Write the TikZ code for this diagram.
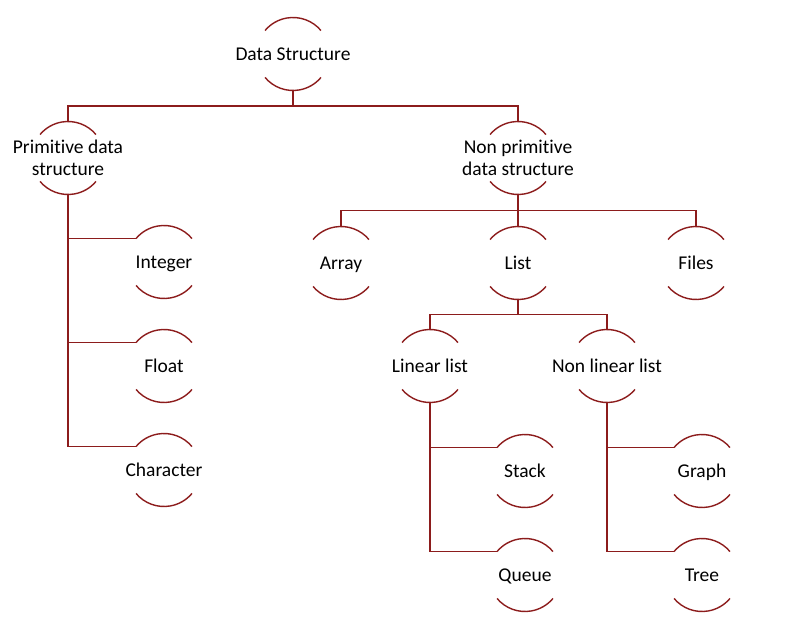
\documentclass[tikz,border=0pt]{standalone}
\usepackage{fontspec}
\setmainfont{Carlito}
\usetikzlibrary{calc}

\definecolor{dsred}{RGB}{140,28,28}
\def\arcrad{36.5pt}

\begin{document}
\begin{tikzpicture}[
    x=1pt, y=-1pt,
    dsnode/.style={shape=rectangle, inner sep=0pt, outer sep=0pt,
        minimum width=73pt, minimum height=73pt, align=center,
        font=\fontsize{19.5}{22.5}\selectfont},
    dsleaf/.style={dsnode, text height=13pt, text depth=0pt},
    link/.style={draw=dsred, line width=1.4pt},
    down/.style={to path={(\tikztostart) |- ($(\tikztostart)!.5!(\tikztotarget)$) -| (\tikztotarget)}},
    side/.style={to path={(\tikztostart) |- ($(\tikztotarget.center)+(140:\arcrad)$)}},
]
\useasboundingbox (0,0) rectangle (790,636);

\node[dsleaf] (ds) at (293, 54) {Data Structure};
\node[dsnode] (pds) at (68, 158) {Primit\kern0pt ive data\\structure};
\node[dsnode] (npds) at (518, 158) {Non primit\kern0pt ive\\data structure};
\node[dsleaf] (int) at (164, 262) {Integer};
\node[dsleaf] (flt) at (164, 366) {Float};
\node[dsleaf] (chr) at (164, 470) {Character};
\node[dsleaf] (arr) at (341, 263) {Array};
\node[dsleaf] (lst) at (518, 263) {List};
\node[dsleaf] (fil) at (696, 263) {Files};
\node[dsleaf] (lin) at (430, 366) {Linear list};
\node[dsleaf] (nlin) at (607, 366) {Non linear list};
\node[dsleaf] (stk) at (525, 471) {Stack};
\node[dsleaf] (que) at (525, 575) {Queue};
\node[dsleaf] (gra) at (702, 471) {Graph};
\node[dsleaf] (tre) at (702, 575) {Tree};

% open circles round each label
\foreach \n in {ds,pds,npds,int,flt,chr,arr,lst,fil,lin,nlin,stk,que,gra,tre}
    \draw[link] (\n.center) ++(40:\arcrad) arc[start angle=40, end angle=140, radius=\arcrad]
        (\n.center) ++(220:\arcrad) arc[start angle=220, end angle=320, radius=\arcrad];

\path[link]
    (ds.south) edge[down] (pds.north)
    (ds.south) edge[down] (npds.north)
    (pds.south) edge[side] (int)
    (pds.south) edge[side] (flt)
    (pds.south) edge[side] (chr)
    (npds.south) edge[down] (arr.north)
    (npds.south) edge[down] (lst.north)
    (npds.south) edge[down] (fil.north)
    (lst.south) edge[down] (lin.north)
    (lst.south) edge[down] (nlin.north)
    (lin.south) edge[side] (stk)
    (lin.south) edge[side] (que)
    (nlin.south) edge[side] (gra)
    (nlin.south) edge[side] (tre)
;
\end{tikzpicture}
\end{document}
